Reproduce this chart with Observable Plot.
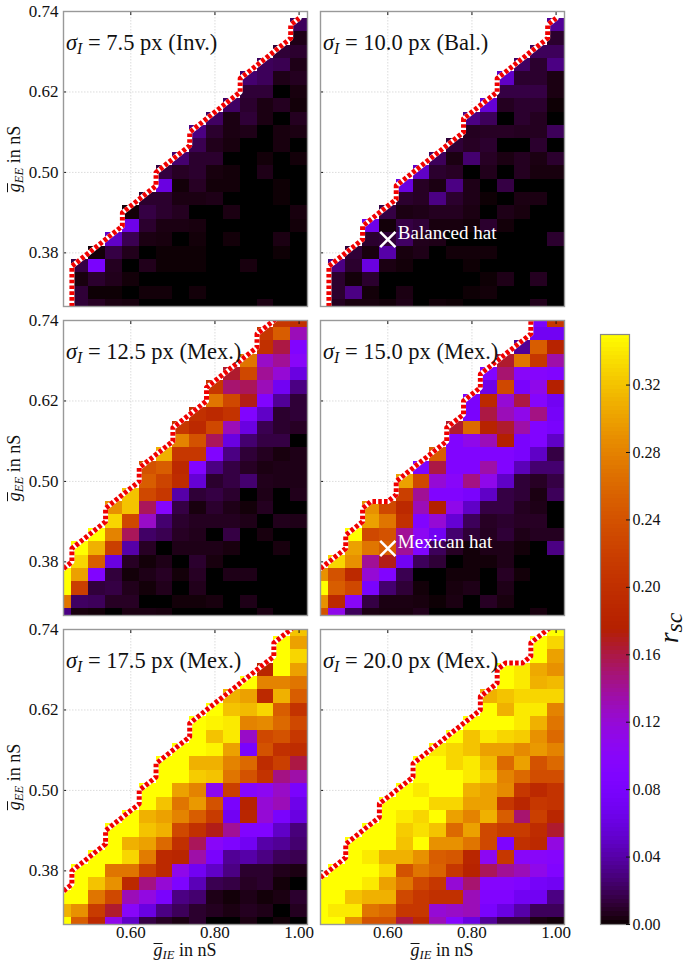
<!DOCTYPE html>
<html>
<head>
<meta charset="utf-8">
<script src="https://cdn.jsdelivr.net/npm/d3@7"></script>
<script src="https://cdn.jsdelivr.net/npm/@observablehq/plot@0.6"></script>
<style>
  body { margin: 0; background: white; font-family: "Liberation Serif", serif; }
  #page { position: relative; width: 686px; height: 961px; overflow: hidden; }
  #page > div { position: absolute; white-space: nowrap; color: #111; }
  sub { font-size: 0.7em; vertical-align: baseline; position: relative; top: 0.25em; line-height: 0; }
  .bar { display: inline-block; border-top: 1px solid #111; line-height: 0.62em; padding-top: 0.08em; }
</style>
</head>
<body>
<div id="page"></div>
<script>
// axes
const gIE = [0.44, 0.48, 0.52, 0.56, 0.60, 0.64, 0.68, 0.72, 0.76, 0.80, 0.84, 0.88, 0.92, 0.96, 1.00]
const gEE = [0.74, 0.72, 0.70, 0.68, 0.66, 0.64, 0.62, 0.60, 0.58, 0.56, 0.54, 0.52, 0.50, 0.48, 0.46, 0.44, 0.42, 0.40, 0.38, 0.36, 0.34, 0.32, 0.30]
const xTicks = [0.60, 0.80, 1.00]
const yTicks = [0.74, 0.62, 0.50, 0.38]
const barTicks = [0.00, 0.04, 0.08, 0.12, 0.16, 0.20, 0.24, 0.28, 0.32]

// r_sc x 100, one list per gEE row from the top, each row runs up to gIE = 1.00
const inv75 = [
  [],
  [2],
  [.5],
  [1.2, 1],
  [2, 1.8, .5],
  [2.5, 2, .5, .7],
  [1.2, 1.2, 0, .3],
  [2.2, 1, .4, .7, .2],
  [2.2, .4, 1.2, .4, 0, .7],
  [3, 1, .4, .5, 0, .3, .4],
  [1.8, .6, .3, 0, 0, .3, 0],
  [2.5, 1, 1, 0, 0, .2, 0, .2],
  [1.4, .8, 1, .3, .2, 0, .5, 0, 0],
  [6, .2, .8, .2, .2, 0, 0, .1, 0],
  [1, 1, .4, .4, .5, 0, 0, 0, .1, 0],
  [.2, 1.5, 1, .7, 0, 0, .4, 0, 0, 0, .3],
  [6.5, 1, .4, .4, .3, 0, 0, 0, 0, 0, .2],
  [5, 1.8, .4, .3, 0, .2, 0, .2, 0, 0, .4, 0],
  [.2, 1.5, .6, 0, .1, .1, .1, 0, 0, 0, 0, .1, 0],
  [1.5, 8, .7, 0, .6, .1, .1, .1, 0, 0, .3, 0, 0, 0],
  [.3, 1, .6, .2, 0, 0, 0, 0, 0, 0, 0, 0, 0, 0],
  [1.2, .1, .1, 0, .2, .2, 0, .2, 0, 0, 0, 0, 0, 0],
  [1.2, .8, .4, .3, 0, 0, 0, 0, 0, 0, 0, .4, 0, 0]
]
const bal10 = [
  [],
  [3.5],
  [1],
  [2, 2],
  [2.2, 1, 3],
  [5, 1, 1, .4],
  [1.5, 1.5, 1.5, .4],
  [5.5, .7, 1, 1, .1],
  [3, 2, 0, 1, .7, 0],
  [.7, .8, .8, .7, .7, 2],
  [1.2, .8, 1, 0, 0, 1, 0],
  [2, .4, 2.5, .8, .4, .7, .4, 1],
  [5, 1, .8, 0, .6, 0, .7, .3, .3],
  [6, .8, .4, 3, .5, 0, 1.5, 0, 0, 0],
  [1, .8, 3, 1, .5, .1, 0, .4, .4, 0],
  [1.5, .4, .5, .7, .7, .4, 0, .5, .3, 0, 0],
  [6.5, .2, 1.5, 1.2, .3, .3, .2, 1, .2, 0, 0, 0],
  [1, 1.2, 2.2, .6, .5, 0, 0, 0, 0, 0, 0, 1],
  [1.2, .3, 4, .3, .5, 0, .2, .2, .2, 0, 0, 0, 0],
  [3, 1, 6, .4, .2, 0, 0, 0, .1, 0, 0, 0, 0, 0],
  [1, .2, 1, 0, 0, 0, 0, 0, 0, .1, .5, 0, .7, 0],
  [1, 3, .2, 0, .4, 0, 0, 0, .1, .2, 0, 0, 0, 0],
  [.7, .3, .3, .2, .5, 0, .2, .1, 0, 0, 0, 0, .6, 0]
]
const mex125 = [
  [21, 20],
  [21, 25, 13],
  [20, 16, 9],
  [27, 12.5, 14, 10],
  [16.5, 23, 14, 12, 6],
  [21, 15, 15.5, 13, 7, 3],
  [27, 23, 17, 9, 3.5, 1.2],
  [20, 19, 20.5, 9, 5, 1, 1.2],
  [21, 19, 23, 13, 6, 1.8, 1, .8],
  [28, 24, 15.5, 6, 2.5, 1.5, 1.5, 0],
  [31, 21, 21, 9, 3, 1.2, .7, .3, .5],
  [24, 25, 19, 9, 3, 1.5, .8, .4, .5, .5],
  [25, 22.5, 19.5, 5.5, 1, 1.5, 2.5, .6, .5, .5],
  [32, 23, 21, 4, 1.2, 1.5, 1, 0, .5, 0, .6],
  [29, 32, 15.5, 9.5, 1.5, .3, 1, .5, .2, .7, 0, 0],
  [33, 23, 12.5, 2.5, 1, .7, .7, .7, .5, 0, .6, .5],
  [35, 28, 15.5, 2.3, 1.8, .8, .6, 0, 1.5, 0, .3, 0, 0],
  [35, 31, 22, 4, .8, 0, .5, .5, .5, .3, 0, 0, .3, 0],
  [33, 25, 6, .8, .2, .5, 0, 1, .3, 0, 0, 0, 0, 0],
  [35, 30, 9, 1.3, .2, .5, .8, .2, .8, 0, .5, .5, 0, 0, 0],
  [35, 22, 1.3, 1.5, .6, .2, .6, 0, .6, 0, 0, 0, 0, 0, 0],
  [27, 2.2, 2, .8, .8, 0, 0, .2, .2, .3, 0, .5, 0, 0, 0],
  [3, .3, .2, 0, .4, .4, .3, 0, 0, 0, 0, 0, .4, 0, 0]
]
const mex15 = [
  [8, 21],
  [7, 7],
  [3.5, 25, 18],
  [16.5, 27, 21, 13.5],
  [9, 15, 10, 9.5, 9],
  [6.5, 23, 8, 11, 17.5],
  [8, 19, 12, 16, 9.5, 7],
  [8, 16, 13, 11, 14.5, 7.5],
  [16.5, 26, 18, 16.5, 13.5, 9, 8],
  [9, 11, 13, 17.5, 8, 9, 5],
  [25, 9, 9, 9, 9, 8, 5, 1.5],
  [8.5, 16, 9, 9, 13.5, 9, 4.5, 2.5, 2.5],
  [30, 23, 12, 10, 14.5, 11, 5, 1.2, .8, 1.5],
  [22, 14, 9, 9, 8, 5, 1.5, 1.2, .4, 2],
  [29, 23, 19, 13, 17.5, 11, 5, 1.5, 1.5, .7, .5, 0],
  [30, 27, 20, 9, 12, 5.5, 2, .8, 1, .8, .8, 0],
  [35, 23, 24, 14, 10.5, 7, 2.5, 1.2, .7, 1.2, .5, .7, .7],
  [30, 27, 25, 14, 9, 2, .8, .2, .5, .5, .2, 0, 3],
  [33, 29, 14, 17, 7, 2, 1.2, 0, .2, .2, .5, 0, 0, 0],
  [29, 24, 19, 12, 9, 1.8, 0, 0, .2, .2, 0, .8, .2, 0, 0],
  [35, 25, 23, 8, 2.5, 1.2, .2, 0, .3, .5, 0, .5, 0, 0, 0],
  [29, 19, 10, 1.5, .4, .4, .3, .1, .4, 0, .8, .3, 0, 0, 0],
  [24, 11, 2, .4, .3, .3, .6, 0, 0, 0, 0, 0, 0, .3, 0]
]
const mex175 = [
  [32],
  [35, 30],
  [35, 33],
  [18.5, 35, 30],
  [35, 28, 28, 27],
  [31, 30, 19, 31, 25],
  [35, 32, 31.5, 33, 25, 20.5],
  [35, 34.5, 34, 28, 28.5, 26, 23],
  [35, 32, 34, 12.5, 23, 24, 21],
  [35, 35, 34.5, 30, 8, 24, 20, 19.5],
  [35, 35, 31, 31, 28, 26, 19.5, 22, 16],
  [35, 35, 32.5, 32, 27, 24, 20.5, 14.5, 13.5],
  [35, 35, 30, 28, 10.5, 22, 9.5, 10.5, 12.5, 8],
  [35, 32, 27, 29.5, 24, 8, 18, 12, 13, 6.5],
  [35, 31, 30, 28, 25, 21.5, 7, 18.5, 12, 8, 6],
  [35, 35, 32, 31, 23, 20, 17, 14, 9, 9, 5, 2.8],
  [35, 31, 30, 26, 20, 15.5, 10, 8.5, 7, 4, 3.5, 2.5],
  [35, 35, 33, 27.5, 19, 18.5, 13.5, 8, 3.5, 4, 3, 2, 1.8],
  [35, 35, 27, 27, 22, 19, 11, 7, 5, 3, 1, 1, .6, .4],
  [35, 32, 29, 19, 14.5, 12, 8.5, 4.5, 1.8, 1.5, .8, 1, .2, 0],
  [35, 35, 27, 23, 13, 11.5, 8, 3, 2.5, .5, .2, .5, .2, .4, 1],
  [31, 29, 21.5, 16.5, 10, 6, 3, 2, 1, .7, .4, .7, .5, 0, .7],
  [35, 25, 19, 11, 5, 1.5, .8, .4, 1, 0, 0, .4, 0, .2, 0]
]
const mex20 = [
  [35],
  [35, 33],
  [35, 30],
  [35, 34, 30.5, 29],
  [35, 34, 31, 31.5],
  [31, 32, 33, 33, 33],
  [35, 31, 34, 34, 28],
  [35, 35, 35, 34, 31, 27],
  [35, 32, 34, 33, 32.5, 29, 26],
  [34, 33, 32, 30, 30, 28.5, 29.5, 28],
  [35, 35, 33, 34, 31.5, 26, 30, 24, 26],
  [35, 35, 35, 34, 32.5, 28, 26, 23.5, 23.5],
  [35, 34, 35, 35, 31, 30, 28.5, 21, 19, 20.5],
  [35, 35, 35, 33, 33, 30, 30, 21, 18.5, 21, 20.5],
  [35, 34, 33, 35, 30, 28, 31, 25, 15, 22, 18.5],
  [35, 35, 32.5, 33.5, 32, 26, 30, 23, 21.5, 21.5, 19.5, 16.5],
  [35, 35, 35, 32, 35, 29, 29, 27, 23, 8.5, 20, 19, 11.5],
  [35, 34, 31, 31, 29, 25, 24.5, 18.5, 10.5, 21, 10, 10, 9.5],
  [35, 35, 35, 33, 24, 27, 25.5, 21, 18, 15.5, 14, 13, 11, 9],
  [35, 35, 35, 34, 30, 27, 23, 21, 12, 15, 9.5, 9.5, 9, 7.5, 7],
  [35, 35, 32, 31, 31, 23, 21, 20, 20, 13, 9, 9, 7, 7, 3],
  [35, 34, 34, 27, 26, 21, 21, 12, 12.5, 13, 8, 6, 4, 2, 2],
  [35, 35, 29, 24, 24, 16, 19, 13, 9.5, 6, 3.5, 1.5, 1.5, .4, .2]
]

const sigma = ["7.5", "10.0", "12.5", "15.0", "17.5", "20.0"]
const kind = ["Inv.", "Bal.", "Mex.", "Mex.", "Mex.", "Mex."]
const tables = [inv75, bal10, mex125, mex15, mex175, mex20]
const hatNames = [null, "Balanced hat", null, "Mexican hat", null, null]
const hatAt = {x: 0.60, y: 0.40}

// panel corners on the page
const colLeft = [63, 320]
const rowTop = [11, 320, 629]
const panelW = 244, panelH = 295
const mL = 63, mT = 11, mB = 37, mR = 6
const font = "Liberation Serif"

// matplotlib "gnuplot" colours
const gnuplot = t => {
  const r = Math.sqrt(t), g = t * t * t, b = Math.max(0, Math.sin(2 * Math.PI * t))
  return d3.rgb(255 * r, 255 * g, 255 * b).formatRgb()
}
const colorScale = {type: "linear", domain: [0, 0.35], interpolate: gnuplot}

const toCells = rows => rows.flatMap((row, i) => row.map((v, j) => ({
  x: gIE[gIE.length - row.length + j],
  y: gEE[i],
  r: v / 100
})))

// the dashed edge follows the top of each column, sidestepping where a column jumps 2+ rows
function edgeOf(rows) {
  const tops = gIE.map((x, c) => {
    const i = rows.findIndex(row => row.length >= gIE.length - c)
    return i < 0 ? null : gEE[i] + 0.01
  })
  const pts = []
  tops.forEach((t, c) => {
    if (t == null) return
    const prev = tops[c - 1]
    if (c > 0 && prev == null) {
      pts.push({x: gIE[c] - 0.02, y: 0.30}, {x: gIE[c] - 0.02, y: t - 0.01})
    } else if (c > 0 && t - prev > 0.03) {
      pts.push({x: gIE[c] - 0.02, y: prev + 0.01}, {x: gIE[c] - 0.02, y: t - 0.01})
    }
    pts.push({x: gIE[c], y: t})
  })
  return pts
}

const page = d3.select("#page")

tables.forEach((rows, k) => {
  const col = k % 2, row = Math.floor(k / 2)
  const marks = [
    Plot.gridX(xTicks, {stroke: "#ccc", strokeOpacity: 0.7, strokeDasharray: "1.5,1.5"}),
    Plot.gridY(yTicks.slice(1), {stroke: "#ccc", strokeOpacity: 0.7, strokeDasharray: "1.5,1.5"}),
    Plot.rect(toCells(rows), {
      x1: d => d.x - 0.02, x2: d => d.x + 0.02,
      y1: d => d.y - 0.01, y2: d => d.y + 0.01,
      fill: "r", clip: true, shapeRendering: "crispEdges"
    }),
    Plot.line(edgeOf(rows), {x: "x", y: "y", stroke: "white", strokeWidth: 5, clip: true}),
    Plot.line(edgeOf(rows), {x: "x", y: "y", stroke: "#f00000", strokeWidth: 5, strokeDasharray: "3.6,2.2", strokeLinecap: "butt", clip: true}),
    Plot.axisX(xTicks, {anchor: "top", tickSize: -3, tickFormat: () => "", label: null, stroke: "#111"}),
    Plot.axisY(yTicks.slice(1), {anchor: "left", tickSize: -3, tickFormat: () => "", label: null, stroke: "#111"})
  ]
  if (col == 0) marks.push(Plot.axisY(yTicks, {anchor: "left", tickSize: 0, tickPadding: 5, tickFormat: ".2f", fontSize: 17, label: null, fill: "#111"}))
  if (row == 2) marks.push(Plot.axisX(xTicks, {anchor: "bottom", tickSize: 0, tickPadding: 1, tickFormat: ".2f", fontSize: 17, label: null, fill: "#111"}))
  if (hatNames[k]) {
    marks.push(
      Plot.dot([hatAt], {x: "x", y: "y", symbol: "times", r: 7, stroke: "white", strokeWidth: 2.6}),
      Plot.text([hatNames[k]], {x: hatAt.x, y: hatAt.y, text: d => d, dx: 10, dy: -7, textAnchor: "start", fill: "white", fontSize: 19})
    )
  }
  marks.push(Plot.frame({stroke: "#999", strokeWidth: 1.4}))

  const chart = Plot.plot({
    width: mL + panelW + mR,
    height: mT + panelH + mB,
    marginLeft: mL, marginRight: mR, marginTop: mT, marginBottom: mB,
    x: {domain: [0.44, 1.02]},
    y: {domain: [0.30, 0.74]},
    color: colorScale,
    style: {fontFamily: font, background: "transparent", overflow: "visible"},
    marks
  })
  page.append("div")
    .style("left", (colLeft[col] - mL) + "px")
    .style("top", (rowTop[row] - mT) + "px")
    .append(() => chart)

  // math labels as html, Plot text can't do sub/overline
  page.append("div")
    .style("left", (colLeft[col] + 3) + "px")
    .style("top", (rowTop[row] + 19) + "px")
    .style("font-size", "22.5px")
    .html(`<i>σ</i><sub><i>I</i></sub> = ${sigma[k]} px (${kind[k]})`)
  if (col == 0) {
    page.append("div")
      .style("left", "14px")
      .style("top", (rowTop[row] + 148) + "px")
      .style("font-size", "18px")
      .style("line-height", "1")
      .style("transform", "translate(-50%,-50%) rotate(-90deg)")
      .html(`<span class="bar"><i>g</i></span><sub><i>EE</i></sub> in nS`)
  }
  if (row == 2) {
    page.append("div")
      .style("left", (colLeft[col] + 122) + "px")
      .style("top", "950px")
      .style("font-size", "18px")
      .style("line-height", "1")
      .style("transform", "translate(-50%,-50%)")
      .html(`<span class="bar"><i>g</i></span><sub><i>IE</i></sub> in nS`)
  }
})

// colour bar
const levels = d3.range(0, 0.35, 0.0025)
const bar = Plot.plot({
  width: 86, height: 11 + 590 + 16,
  marginLeft: 0, marginRight: 57, marginTop: 11, marginBottom: 16,
  x: {domain: [0, 1], axis: null},
  y: {domain: [0, 0.35]},
  color: colorScale,
  style: {fontFamily: font, background: "transparent", overflow: "visible"},
  marks: [
    Plot.rect(levels, {x1: 0, x2: 1, y1: d => d, y2: d => d + 0.0025, fill: d => d + 0.00125, shapeRendering: "crispEdges"}),
    Plot.frame({stroke: "#888", strokeWidth: 1.2}),
    Plot.axisY(barTicks, {anchor: "right", tickSize: -4, tickFormat: ".2f", tickPadding: 7, fontSize: 16, label: null, stroke: "#111", fill: "#111"})
  ]
})
page.append("div").style("left", "600px").style("top", "323px").append(() => bar)

page.append("div")
  .style("left", "669px")
  .style("top", "628px")
  .style("font-size", "28px")
  .style("line-height", "1")
  .style("transform", "translate(-50%,-50%) rotate(-90deg)")
  .html(`<i>r</i><sub style="font-size:.85em;top:.15em"><i>sc</i></sub>`)
</script>
</body>
</html>
